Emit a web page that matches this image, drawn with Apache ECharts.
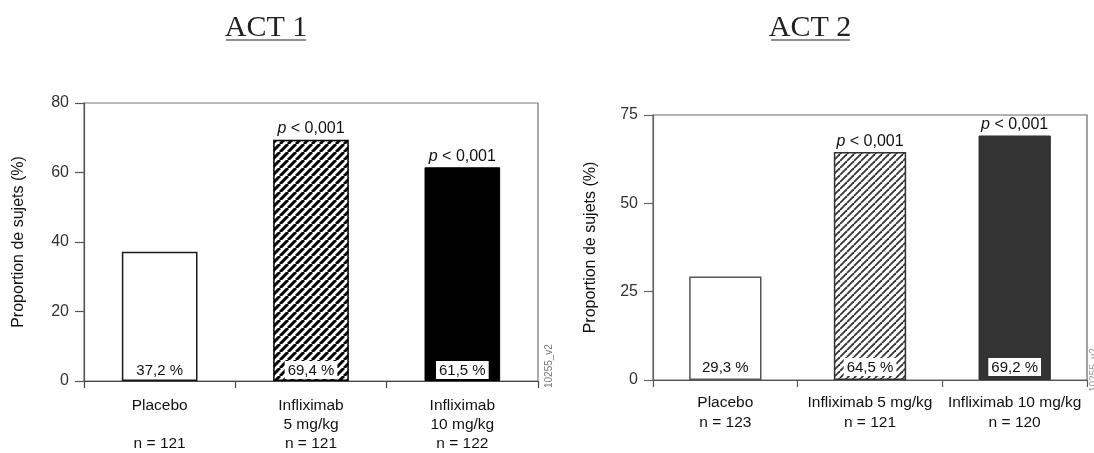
<!DOCTYPE html>
<html>
<head>
<meta charset="utf-8">
<script src="https://cdn.jsdelivr.net/npm/echarts@6/dist/echarts.min.js"></script>
<style>
html,body{margin:0;padding:0;background:#fff;}
#chart{width:1094px;height:453px;}
</style>
</head>
<body>
<div id="chart"></div>
<script>
// ---- data ----
const titles = ['ACT 1', 'ACT 2'];
const yAxisName = 'Proportion de sujets (%)';
const categories1 = ['Placebo\n\nn = 121', 'Infliximab\n5 mg/kg\nn = 121', 'Infliximab\n10 mg/kg\nn = 122'];
const values1 = [37.2, 69.4, 61.5];
const pLabels1 = ['', 'p < 0,001', 'p < 0,001'];
const yMin1 = 0, yMax1 = 80, yStep1 = 20;

const categories2 = ['Placebo\nn = 123', 'Infliximab 5 mg/kg\nn = 121', 'Infliximab 10 mg/kg\nn = 120'];
const values2 = [29.3, 64.5, 69.2];
const pLabels2 = ['', 'p < 0,001', 'p < 0,001'];
const yMin2 = 0, yMax2 = 75, yStep2 = 25;

const figCodes = ['10255_v2', '10255_v2'];

// ---- helpers ----
function hatch(period, width, lineColor) {
  const c = document.createElement('canvas');
  c.width = period; c.height = period;
  const g = c.getContext('2d');
  g.fillStyle = '#fff';
  g.fillRect(0, 0, period, period);
  g.strokeStyle = lineColor;
  g.lineWidth = width;
  for (let k = -1; k <= 1; k++) {
    g.beginPath();
    g.moveTo(k * period, period);
    g.lineTo(k * period + period, 0);
    g.stroke();
  }
  return { image: c, repeat: 'repeat' };
}
const fmtVal = v => v.toFixed(1).replace('.', ',') + ' %';
const font = '"Liberation Sans", Arial, sans-serif';

const styles1 = [
  { color: '#fff', borderColor: '#1a1a1a', borderWidth: 1.5 },
  { color: hatch(8, 3, '#000'), borderColor: '#000', borderWidth: 1.5 },
  { color: '#000', borderColor: '#000', borderWidth: 1 }
];
const styles2 = [
  { color: '#fff', borderColor: '#555', borderWidth: 1.5 },
  { color: hatch(7, 1.8, '#333'), borderColor: '#333', borderWidth: 1.5 },
  { color: '#333', borderColor: '#333', borderWidth: 1 }
];

function valueSeries(idx, values, styles, dist) {
  return {
    type: 'bar', xAxisIndex: idx, yAxisIndex: idx,
    barWidth: '50%', barGap: '-100%',
    data: values.map((v, i) => ({ value: v, itemStyle: styles[i] })),
    label: {
      show: true, position: 'insideBottom', distance: dist,
      formatter: p => fmtVal(p.value),
      fontFamily: font, fontSize: 15, color: '#111',
      backgroundColor: '#fff', padding: [2, 3, 1, 3]
    },
    silent: true
  };
}
function pSeries(idx, values, pLabels) {
  return {
    type: 'bar', xAxisIndex: idx, yAxisIndex: idx,
    barWidth: '50%', barGap: '-100%',
    data: values,
    itemStyle: { color: 'rgba(0,0,0,0)' },
    label: {
      show: true, position: 'top', distance: 3,
      formatter: p => pLabels[p.dataIndex] ? '{i|p}' + pLabels[p.dataIndex].slice(1) : '',
      fontFamily: font, fontSize: 16, color: '#111',
      rich: { i: { fontStyle: 'italic', fontFamily: font, fontSize: 16, color: '#111' } }
    },
    silent: true, z: 3
  };
}
function xAxis(idx, cats, lineColor, lh, margin) {
  return {
    type: 'category', gridIndex: idx, data: cats,
    axisLine: { show: true, lineStyle: { color: lineColor, width: 1.2 } },
    axisTick: { show: true, length: 7, lineStyle: { color: lineColor, width: 1.2 } },
    axisLabel: { fontFamily: font, fontSize: 15.5, color: '#111', lineHeight: lh, margin: margin, interval: 0 },
    splitLine: { show: false }
  };
}
function yAxis(idx, mn, mx, st, lineColor, gap) {
  return {
    type: 'value', gridIndex: idx, min: mn, max: mx, interval: st,
    name: yAxisName, nameLocation: 'middle', nameGap: gap, nameRotate: 90,
    nameTextStyle: { fontFamily: font, fontSize: 16, color: '#111' },
    axisLine: { show: true, lineStyle: { color: lineColor, width: 1.2 } },
    axisTick: { show: true, length: 9, lineStyle: { color: lineColor, width: 1.2 } },
    axisLabel: { fontFamily: font, fontSize: 16, color: '#333', margin: 15 },
    splitLine: { show: false }
  };
}

const chart = echarts.init(document.getElementById('chart'));
chart.setOption({
  backgroundColor: '#fff',
  animation: false,
  grid: [
    { left: 84, top: 103, width: 454, height: 284, show: true, borderColor: '#777', borderWidth: 1.2, backgroundColor: 'transparent' },
    { left: 653, top: 115, width: 434, height: 265, show: true, borderColor: '#666', borderWidth: 1.2, backgroundColor: 'transparent' }
  ],
  xAxis: [xAxis(0, categories1, '#444', 19, 15), xAxis(1, categories2, '#555', 20, 13)],
  yAxis: [yAxis(0, yMin1, yMax1, yStep1, '#555', 57), yAxis(1, yMin2, yMax2, yStep2, '#666', 54)],
  series: [
    valueSeries(0, values1, styles1, 2), pSeries(0, values1, pLabels1),
    valueSeries(1, values2, styles2, 4), pSeries(1, values2, pLabels2)
  ],
  graphic: [
    { type: 'text', x: 266, y: 13, style: { text: titles[0], font: '30px "Liberation Serif", serif', fill: '#222', textAlign: 'center' } },
    { type: 'line', shape: { x1: 226, y1: 40, x2: 306, y2: 40 }, style: { stroke: '#222', lineWidth: 1.2 } },
    { type: 'text', x: 810, y: 13, style: { text: titles[1], font: '30px "Liberation Serif", serif', fill: '#222', textAlign: 'center' } },
    { type: 'line', shape: { x1: 771, y1: 40, x2: 850, y2: 40 }, style: { stroke: '#222', lineWidth: 1.2 } },
    { type: 'text', x: 544, y: 388, rotation: Math.PI / 2, style: { text: figCodes[0], font: '10px "Liberation Sans", sans-serif', fill: '#777' } },
    { type: 'text', x: 1089, y: 392, rotation: Math.PI / 2, style: { text: figCodes[1], font: '10px "Liberation Sans", sans-serif', fill: '#999' } }
  ]
});
</script>
</body>
</html>
